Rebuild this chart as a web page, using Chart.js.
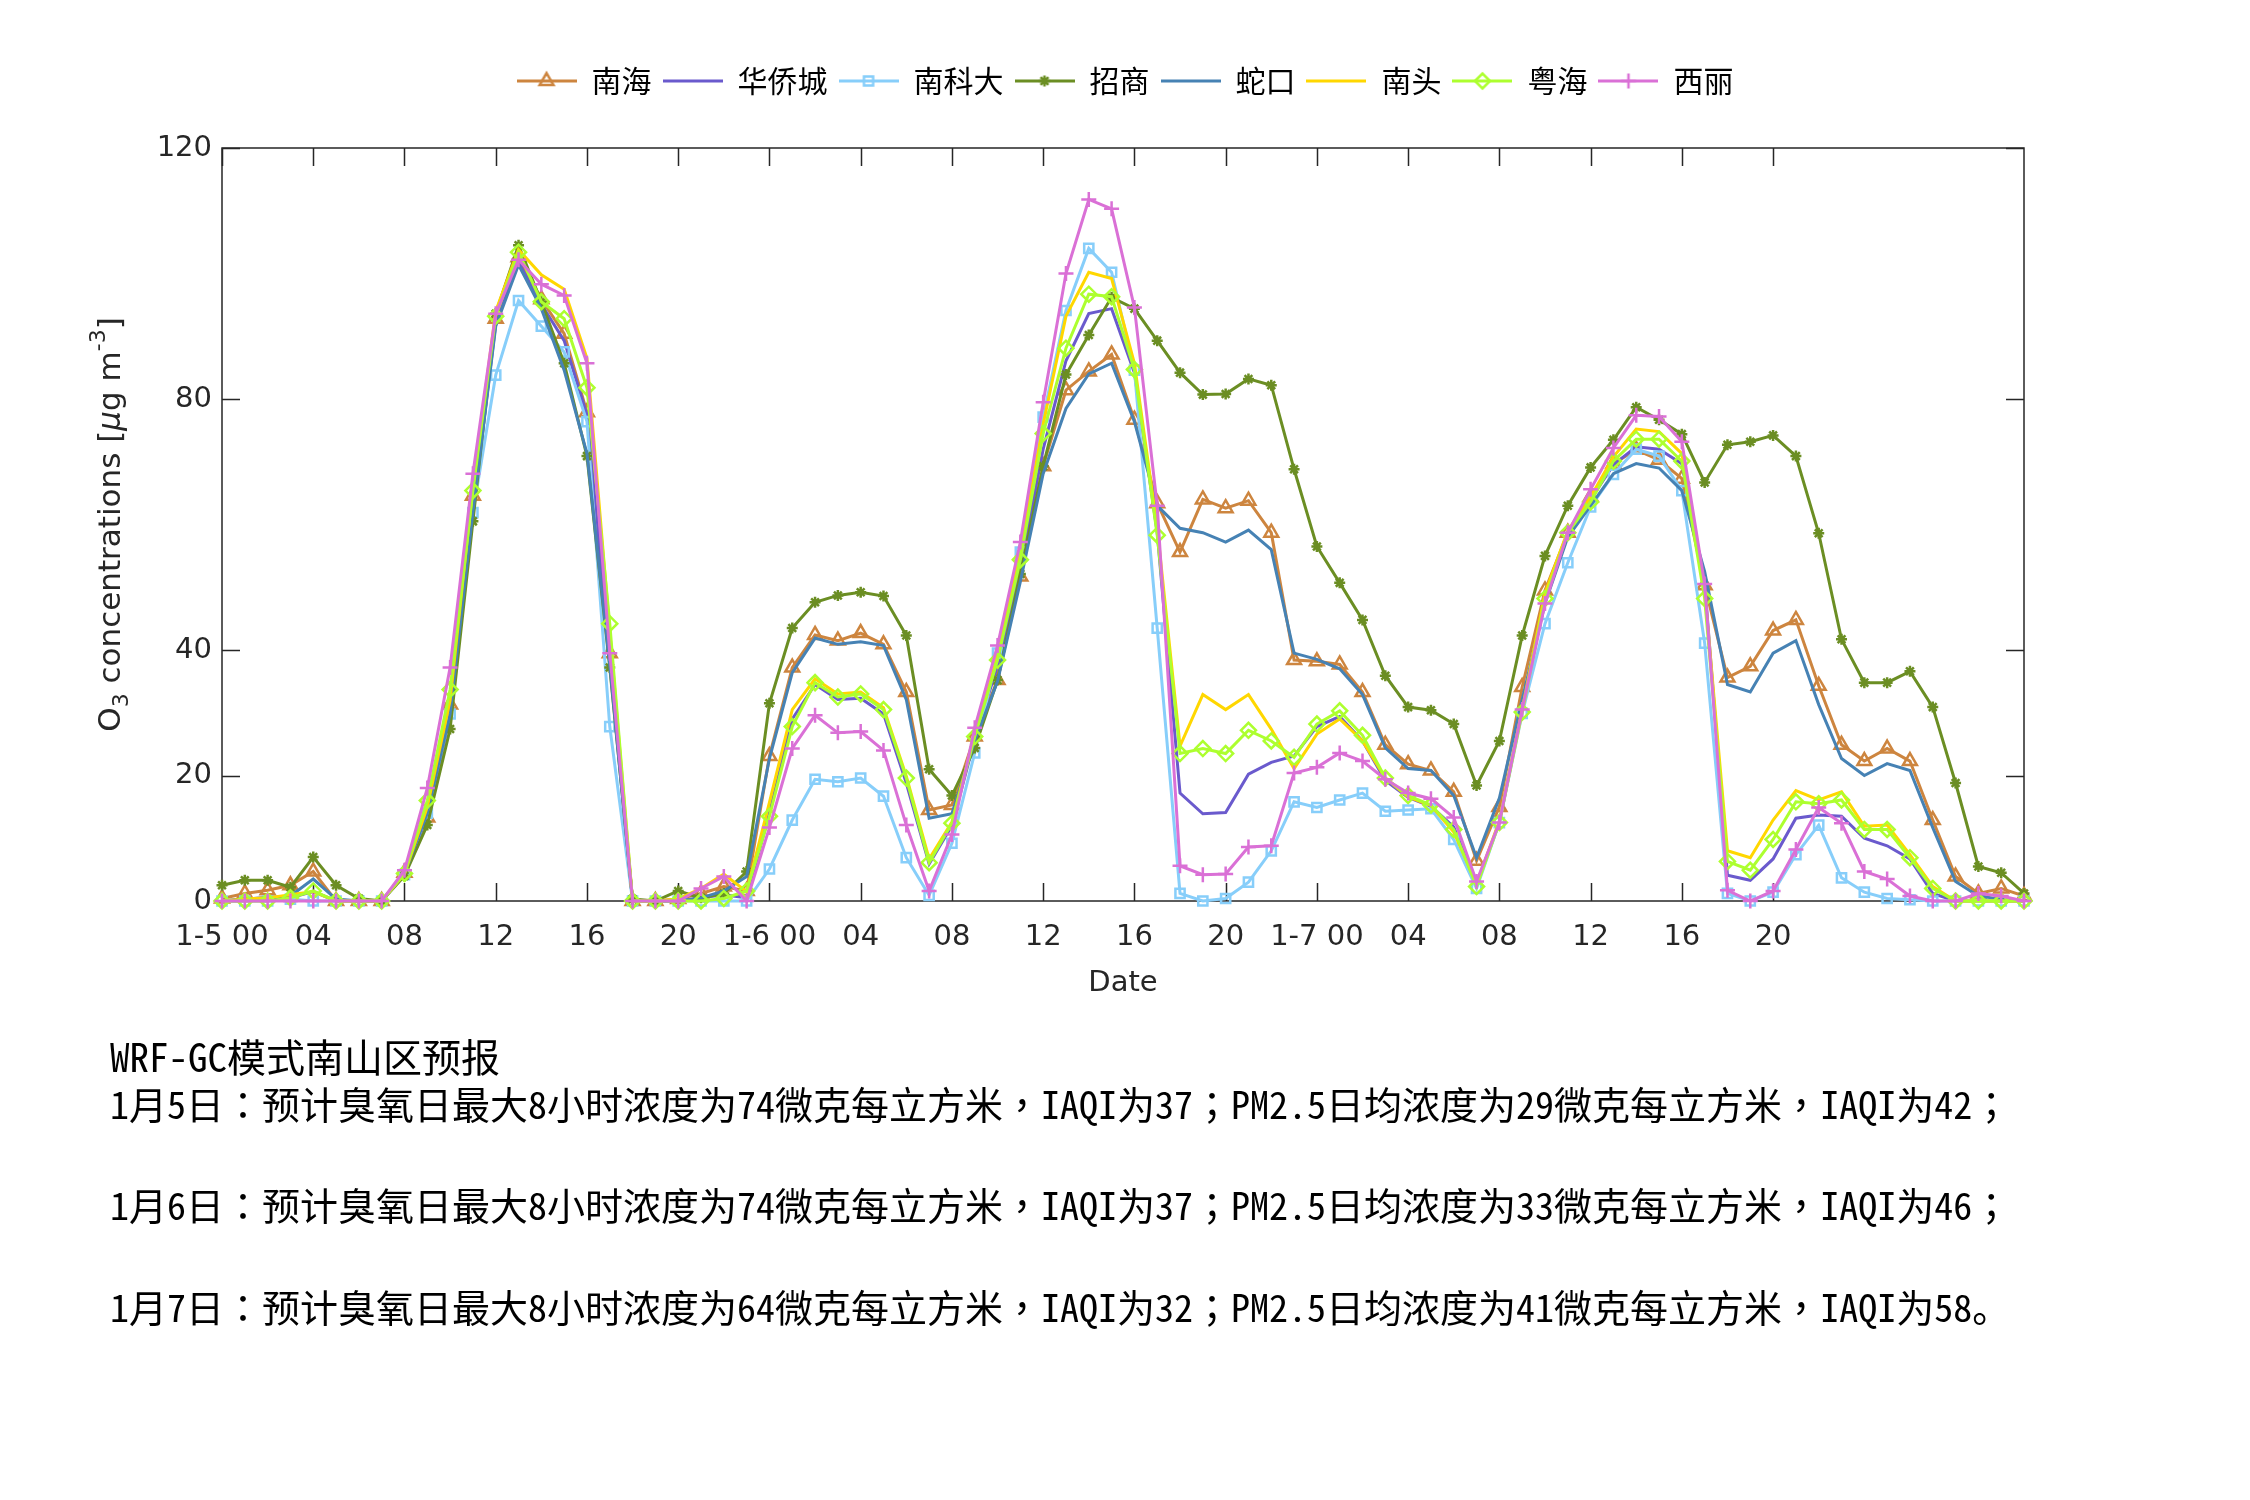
<!DOCTYPE html>
<html>
<head>
<meta charset="utf-8">
<title>WRF-GC 南山区 O3 预报</title>
<script src="https://cdn.jsdelivr.net/npm/chart.js@4.4.1/dist/chart.umd.min.js"></script>
<style>
  html, body { margin: 0; padding: 0; background: #fff; }
  #wrap { position: relative; width: 2250px; height: 1500px; }
  #chart { position: absolute; left: 0; top: 0; }
  .note { position: absolute; left: 110px; font-family: "Noto Sans CJK SC", sans-serif; font-size: 38px; line-height: 38px; color: #000; white-space: nowrap; font-feature-settings: "hwid" 1; }
  .note.head { font-size: 39px; }
  .pu { font-family: "Noto Sans CJK TC", sans-serif; font-feature-settings: normal; }
</style>
</head>
<body>
<div id="wrap">
  <canvas id="chart" width="2250" height="1500"></canvas>
  <div class="note head" style="top:1036px">WRF-GC模式南山区预报</div>
  <div class="note" style="top:1084px">1月5日<span class="pu">：</span>预计臭氧日最大8小时浓度为74微克每立方米<span class="pu">，</span>IAQI为37<span class="pu">；</span>PM2.5日均浓度为29微克每立方米<span class="pu">，</span>IAQI为42<span class="pu">；</span></div>
  <div class="note" style="top:1185px">1月6日<span class="pu">：</span>预计臭氧日最大8小时浓度为74微克每立方米<span class="pu">，</span>IAQI为37<span class="pu">；</span>PM2.5日均浓度为33微克每立方米<span class="pu">，</span>IAQI为46<span class="pu">；</span></div>
  <div class="note" style="top:1287px">1月7日<span class="pu">：</span>预计臭氧日最大8小时浓度为64微克每立方米<span class="pu">，</span>IAQI为32<span class="pu">；</span>PM2.5日均浓度为41微克每立方米<span class="pu">，</span>IAQI为58。</div>
</div>
<script>
// hourly O3 (ug/m3), 1-5 00 .. 1-8 07
const stations = ['南海', '华侨城', '南科大', '招商', '蛇口', '南头', '粤海', '西丽'];

const nanhai = [0.4,1.2,1.7,2.5,4.7,0,0,0,4.5,13.3, 31.3,64.6,92.8,102.6,95.9,90.4,77.9,39.5,0,0,
  0.3,1.2,2.3,1.6,23.1,37.2,42.4,41.5,42.7,40.9, 33.3,14.5,15.3,26.2,35.2,51.7,69.3,81.4,84.4,87.1,
  76.7,63.4,55.6,64,62.6,63.8,58.7,38.4,38.2,37.7, 33.3,24.9,21.8,20.8,17.4,6.4,15,34.1,49.5,58.7,
  64.4,69.7,71.9,70.3,67.3,50.3,35.6,37.4,43.1,44.8, 34.3,24.9,22.3,24.3,22.3,12.9,3.9,1.2,2,0.8];
const huaqiaocheng = [0,0.3,0.5,0.5,1.5,0,0,0,4.3,13.5, 29.5,62,92,101.8,95.1,89.3,77.5,38.4,0,0,
  0,0.5,1,0.5,14.1,29,34.5,32.1,32.3,29.8, 18.8,5.9,12,25.8,37.5,53,72,86.1,93.6,94.4,
  84.2,58.7,17.2,13.9,14.1,20.2,22.1,23.1,27.8,29.4, 25.5,19.2,16.5,15.1,11.8,2.7,12.5,30.7,48,58.5,
  64,69.5,72.4,72,69.7,50.7,4.1,3.3,6.7,13.2, 13.7,13.5,10,8.8,6.7,1.2,0,0,0,0];
const nankeda = [0,0,0,0.3,0,0,0,0,4.2,14, 29.8,61.9,83.8,95.7,91.6,87.5,76.4,27.8,0,0,
  0,0,0,0,5.1,12.9,19.4,19,19.6,16.7, 6.9,0.9,9.2,23.6,39.5,55.6,77.1,94.1,104,100.2,
  84.6,43.5,1.2,0,0.4,3,8,15.8,14.9,16.1, 17.2,14.3,14.5,14.7,9.8,2,12.5,29.9,44.2,53.9,
  62.8,68,72,70.9,65.4,41.1,1.2,0,1.4,7.4, 12.1,3.7,1.4,0.4,0.2,0,0,0,0,0];
const zhaoshang = [2.5,3.3,3.3,2.2,7,2.5,0.4,0,4,12.1, 27.4,60.5,93.6,104.5,95.5,85.7,70.9,37.2,0.3,0,
  1.6,0.5,1.2,4.7,31.5,43.5,47.6,48.7,49.2,48.6, 42.3,21,16.8,24.4,35.2,52.1,69.3,83.9,90.2,96.2,
  94.4,89.3,84.2,80.7,80.8,83.2,82.2,68.8,56.5,50.7, 44.8,35.9,30.9,30.4,28.2,18.4,25.5,42.3,55,63,
  69.1,73.5,78.7,76.7,74.4,66.7,72.7,73.2,74.2,70.9, 58.6,41.7,34.8,34.8,36.6,30.9,18.8,5.5,4.5,1.2];
const shekou = [0,0.3,0.5,0.8,3.5,0.3,0,0,4.3,14, 29.8,62,91.6,101.4,94.4,84.6,71.3,37.6,0,0,
  0,0.5,1.6,3.9,22.7,36.4,41.9,40.9,41.3,40.7, 32.1,13.2,13.9,25.5,35,50.9,68.1,78.5,84,85.7,
  76.4,63,59.4,58.7,57.2,59.1,56,39.5,38.5,37, 32.9,24.4,21.1,20.8,16.8,6.9,16.4,32.1,47.4,58,
  63,68.1,69.7,69,65.4,52.5,34.5,33.3,39.5,41.5, 31.3,22.7,20,21.9,20.8,11.7,3.1,0.8,0.3,0];
const nantou = [0,0.3,0.5,1,1.5,0,0,0,4.3,15, 32,66,94,103.8,99.8,97.5,86.5,43,0,0,
  0.3,2,4.3,1.5,15.7,30.5,35.4,33,33.3,30.8, 19.9,6.7,12.6,26.5,39,55.6,76,93.2,100.2,99.2,
  85.7,59.5,24.7,32.9,30.5,32.9,27.4,21.1,26.6,29, 25.5,19.6,16.6,15.2,11,2.7,12.8,30.5,49,59,
  64.4,70.8,75.2,74.8,71.3,49.5,8,6.9,12.9,17.6, 16.1,17.4,11.9,12.1,7.4,2.3,0,0,0,0];
const yuehai = [0,0,0,0.5,1.6,0,0,0,4.4,16, 33.7,65.4,93.2,103.4,95.5,92.8,81.8,44.2,0,0,
  0,0,0.4,1.6,13.5,27.8,34.8,32.5,33,30.5, 19.6,6.1,12.4,26.2,38.4,54.4,74.5,88.1,96.7,96.3,
  84.7,58.3,23.5,24.3,23.5,27.2,25.5,22.9,28.2,30.3, 26.4,19.6,16.8,15.3,11.4,2.3,12.5,30.1,48.2,58.7,
  63.6,70.1,73.6,73.6,70.1,48.2,6.3,4.9,9.8,15.8, 15.5,16.1,11.4,11.4,6.9,2,0,0,0,0];
const xili = [0,0,0,0,0,0,0,0,4.9,18, 37.2,68.1,93.6,102.2,98.3,96.5,85.7,39.5,0,0,
  0,2,3.9,0,11.7,24.3,29.6,26.8,27,24, 12.1,1.6,10.6,27.6,40.7,57.2,79.5,100,111.8,110.3,
  94.6,63,5.6,4.2,4.3,8.6,8.8,20.4,21.3,23.6, 22.3,19.4,17.2,16.3,13.3,3.1,12.5,30.5,47.4,58.7,
  65.6,72.2,77.4,77.2,73.2,50.5,1.7,0,1.6,8.2, 14.9,12.4,4.7,3.5,0.8,0,0,1.2,0.8,0];

const xTickHours = [0, 4, 8, 12, 16, 20, 24, 28, 32, 36, 40, 44, 48, 52, 56, 60, 64, 68];
const xTickLabels = ['1-5 00', '04', '08', '12', '16', '20', '1-6 00', '04', '08', '12', '16', '20',
  '1-7 00', '04', '08', '12', '16', '20'];
const yTicks = [0, 20, 40, 80, 120];

const series = [nanhai, huaqiaocheng, nankeda, zhaoshang, shekou, nantou, yuehai, xili];
const colors = ['#CD853F', '#6A5ACD', '#87CEFA', '#6B8E23', '#4682B4', '#FFD700', '#ADFF2F', '#DA70D6'];
const markers = ['triangle', null, 'rect', 'star', null, null, 'rectRot', 'cross'];
const radii = [8, 0, 6.5, 5.5, 0, 0, 7.5, 7.5];

const axisColor = '#262626';
const TICK_LEN = 18;

function legendIcon(i) {
  const c = document.createElement('canvas');
  c.width = 60;
  c.height = 30;
  const g = c.getContext('2d');
  g.strokeStyle = colors[i];
  g.fillStyle = 'rgba(0,0,0,0)';
  g.lineWidth = 3;
  g.beginPath();
  g.moveTo(0, 15);
  g.lineTo(60, 15);
  g.stroke();
  if (markers[i]) {
    g.lineWidth = 2.5;
    Chart.helpers.drawPoint(g, { pointStyle: markers[i], radius: radii[i], borderWidth: 2.5, rotation: 0 }, 30, 15);
  }
  return c;
}
const legendIcons = stations.map((s, i) => legendIcon(i));

// MATLAB-like box with inward ticks on all four sides
const framePlugin = {
  id: 'frame',
  beforeDatasetsDraw(chart) {
    const { ctx, chartArea: a, scales: { x, y } } = chart;
    ctx.save();
    ctx.strokeStyle = axisColor;
    ctx.lineWidth = 1.5;
    ctx.strokeRect(a.left, a.top, a.right - a.left, a.bottom - a.top);
    ctx.beginPath();
    xTickHours.forEach(h => {
      const px = Math.round(x.getPixelForValue(h)) + 0.5;
      ctx.moveTo(px, a.bottom); ctx.lineTo(px, a.bottom - TICK_LEN);
      ctx.moveTo(px, a.top); ctx.lineTo(px, a.top + TICK_LEN);
    });
    yTicks.forEach(v => {
      const py = Math.round(y.getPixelForValue(v)) + 0.5;
      ctx.moveTo(a.left, py); ctx.lineTo(a.left + TICK_LEN, py);
      ctx.moveTo(a.right, py); ctx.lineTo(a.right - TICK_LEN, py);
    });
    ctx.stroke();
    ctx.restore();
  },
  afterDraw(chart) {
    // y title with sub/superscripts
    const { ctx, chartArea: a } = chart;
    const fam = '"DejaVu Sans", sans-serif';
    const parts = [
      { t: 'O', f: '31px ' + fam, dy: 0 },
      { t: '3', f: '22px ' + fam, dy: 10 },
      { t: ' concentrations [', f: '31px ' + fam, dy: 0 },
      { t: 'μ', f: 'italic 31px ' + fam, dy: 0 },
      { t: 'g m', f: '31px ' + fam, dy: 0 },
      { t: '-3', f: '22px ' + fam, dy: -13 },
      { t: ']', f: '31px ' + fam, dy: 0 }
    ];
    ctx.save();
    let total = 0;
    parts.forEach(p => { ctx.font = p.f; p.w = ctx.measureText(p.t).width; total += p.w; });
    ctx.translate(112, (a.top + a.bottom) / 2);
    ctx.rotate(-Math.PI / 2);
    ctx.fillStyle = axisColor;
    ctx.textBaseline = 'middle';
    let cx = -total / 2;
    parts.forEach(p => {
      ctx.font = p.f;
      ctx.fillText(p.t, cx, p.dy);
      cx += p.w;
    });
    ctx.restore();
  }
};

// keep the legend row where the figure has it, independent of the axes box
const legendPlace = {
  id: 'legendPlace',
  afterLayout(chart) {
    const lg = chart.legend;
    const dy = 55 - lg.top;
    lg.top += dy;
    lg.bottom += dy;
  }
};

const tickFont = { family: '"DejaVu Sans", sans-serif', size: 29 };

new Chart(document.getElementById('chart'), {
  type: 'line',
  data: {
    datasets: stations.map((name, i) => ({
      label: name,
      data: series[i].map((v, h) => ({ x: h, y: v })),
      borderColor: colors[i],
      backgroundColor: colors[i],
      borderWidth: 3,
      pointStyle: markers[i] || 'circle',
      pointRadius: markers[i] ? radii[i] : 0,
      pointBorderWidth: 2.5,
      pointBackgroundColor: 'rgba(0,0,0,0)',
      pointBorderColor: colors[i],
      tension: 0,
      clip: false,
      order: -i,
      xAxisID: 'x',
      yAxisID: 'y'
    }))
  },
  options: {
    responsive: false,
    animation: false,
    devicePixelRatio: 1,
    events: [],
    layout: { padding: { top: 97, bottom: 499, left: 0, right: 0 } },
    plugins: {
      tooltip: { enabled: false },
      legend: {
        position: 'top',
        align: 'center',
        labels: {
          usePointStyle: true,
          pointStyleWidth: 60,
          padding: 11,
          color: '#000',
          font: { family: '"Noto Sans CJK SC", sans-serif', size: 30 },
          generateLabels: chart => chart.data.datasets.map((ds, i) => ({
            text: ds.label,
            pointStyle: legendIcons[i],
            datasetIndex: i,
            hidden: false,
            lineWidth: 0,
            fillStyle: 'rgba(0,0,0,0)',
            strokeStyle: 'rgba(0,0,0,0)',
            fontColor: '#000'
          }))
        }
      }
    },
    scales: {
      x: {
        type: 'linear',
        min: 0,
        max: 79,
        afterBuildTicks: s => { s.ticks = xTickHours.map(v => ({ value: v })); },
        afterFit: s => { s.height = 100; },
        ticks: {
          autoSkip: false,
          maxRotation: 0,
          minRotation: 0,
          padding: 19,
          color: axisColor,
          font: tickFont,
          callback: v => xTickLabels[xTickHours.indexOf(v)]
        },
        grid: { display: false, drawTicks: false },
        border: { display: false },
        title: { display: true, text: 'Date', color: axisColor, font: { family: '"DejaVu Sans", sans-serif', size: 29 }, padding: 0 }
      },
      y: {
        type: 'linear',
        min: 0,
        max: 120,
        afterBuildTicks: s => { s.ticks = yTicks.map(v => ({ value: v })); },
        afterFit: s => { s.width = 222; },
        ticks: { padding: 10, color: axisColor, font: tickFont },
        grid: { display: false, drawTicks: false },
        border: { display: false }
      },
      yRight: {
        type: 'linear',
        position: 'right',
        afterFit: s => { s.width = 226; },
        ticks: { display: false },
        grid: { display: false, drawTicks: false },
        border: { display: false }
      }
    }
  },
  plugins: [framePlugin, legendPlace]
});
</script>
</body>
</html>
